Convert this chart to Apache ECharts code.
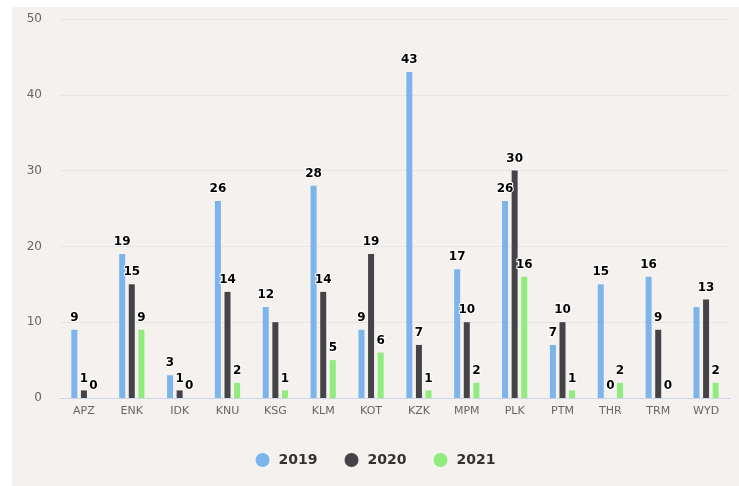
<!DOCTYPE html>
<html>
<head>
<meta charset="utf-8">
<script src="https://cdn.jsdelivr.net/npm/echarts@6/dist/echarts.min.js"></script>
<style>
html,body{margin:0;padding:0;background:#ffffff;}
#chart{position:absolute;left:12px;top:7px;width:727px;height:479px;background:#f4f1ee;}
</style>
</head>
<body>
<div id="chart"></div>
<script>
var categories = ['APZ','ENK','IDK','KNU','KSG','KLM','KOT','KZK','MPM','PLK','PTM','THR','TRM','WYD'];
var seriesNames = ['2019','2020','2021'];
var values2019 = [9,19,3,26,12,28,9,43,17,26,7,15,16,12];
var values2020 = [1,15,1,14,10,14,19,7,10,30,10,0,9,13];
var values2021 = [0,9,0,2,1,5,6,1,2,16,1,2,0,2];
var yTicks = [0,10,20,30,40,50];
var hiddenLabels = [['2020','KSG'],['2019','WYD']];

var colors = ['#7cb5ec','#434348','#90ed7d'];
var allValues = [values2019, values2020, values2021];

function buildData(name, vals){
  return vals.map(function(v,i){
    var hide = hiddenLabels.some(function(h){return h[0]===name && h[1]===categories[i];});
    return hide ? {value:v,label:{show:false}} : v;
  });
}

var chart = echarts.init(document.getElementById('chart'));
var font = 'DejaVu Sans, Verdana, sans-serif';
chart.setOption({
  backgroundColor:'#f4f1ee',
  animation:false,
  color:colors,
  grid:{left:48,right:9,top:12,bottom:88,containLabel:false},
  legend:{
    data:seriesNames,
    top:441,
    left:'center',
    icon:'circle',
    itemWidth:14,
    itemHeight:14,
    itemGap:27,
    textStyle:{fontFamily:font,fontSize:14,fontWeight:'bold',color:'#333333',padding:[0,0,0,4]}
  },
  xAxis:{
    type:'category',
    data:categories,
    axisLine:{lineStyle:{color:'#ccd6eb'}},
    axisTick:{show:false},
    axisLabel:{fontFamily:font,fontSize:11,color:'#666666',margin:8}
  },
  yAxis:{
    type:'value',
    min:yTicks[0],
    max:yTicks[yTicks.length-1],
    interval:yTicks[1]-yTicks[0],
    axisLine:{show:false},
    axisTick:{show:false},
    splitLine:{lineStyle:{color:'#e6e6e6'}},
    axisLabel:{fontFamily:font,fontSize:12,color:'#666666',margin:18}
  },
  series:seriesNames.map(function(n,k){
    return {
      name:n,
      type:'bar',
      data:buildData(n, allValues[k]),
      barWidth:6,
      barGap:'60%',
      label:{
        show:true,
        position:'top',
        distance:6,
        fontFamily:font,
        fontSize:12,
        fontWeight:'bold',
        color:'#000000',
        textBorderColor:'#ffffff',
        textBorderWidth:2
      }
    };
  })
});
</script>
</body>
</html>
